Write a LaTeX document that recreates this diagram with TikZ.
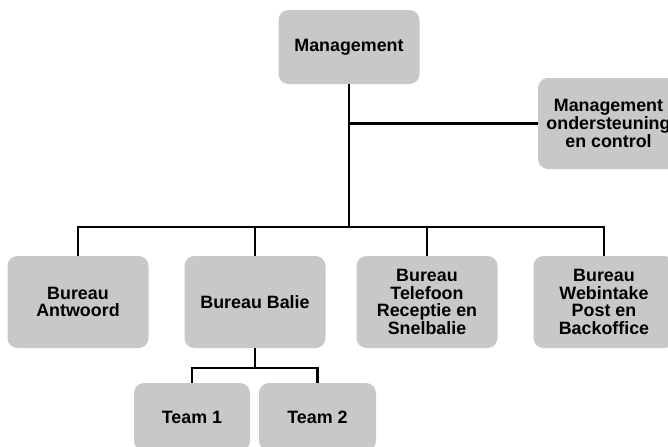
\documentclass[tikz,border=0pt]{standalone}
\usepackage{fontspec}
\setmainfont{Liberation Sans}
\definecolor{boxgray}{RGB}{200,200,202}
\tikzset{
  orgbox/.style={draw=none, fill=boxgray, rounded corners=7.5bp, align=center,
    font=\fontsize{13.4bp}{13.3bp}\selectfont\bfseries, inner sep=0pt,
    minimum width=141*0.75bp, minimum height=#1*0.75bp, text=black},
  orgbox/.default=92,
  conn/.style={line width=1.9bp, draw=black}
}
\begin{document}
\begin{tikzpicture}[x=0.75bp,y=-0.75bp]
\useasboundingbox (0,0) rectangle (668,447);
\fill[white] (0,0) rectangle (668,447);
\begin{scope}
\clip (0,0) rectangle (668,447);
\node[orgbox=74] (m) at (349,47) {Management};
\node[orgbox=91] (ms) at (608.5,123.5) {Management\\ondersteuning\\en control};
\node[orgbox] (ba) at (78,302) {Bureau\\Antwoord};
\node[orgbox] (bb) at (255,302) {Bureau Balie};
\node[orgbox] (bt) at (427,302) {Bureau\\Telefoon\\Receptie en\\Snelbalie};
\node[orgbox] (bw) at (604,302) {Bureau\\Webintake\\Post en\\Backoffice};
\node[orgbox=68, minimum width=116*0.75bp] (t1) at (192,417) {Team 1};
\node[orgbox=68, minimum width=117*0.75bp] (t2) at (317.5,417) {Team 2};
\coordinate (bus) at (349,227);
\coordinate (tbus) at (255,368);
\draw[conn] (m.south) -- (bus);
\draw[conn] (m.south |- ms.west) -- (ms.west);
\draw[conn] (ba.north) |- (bus) -| (bw.north);
\draw[conn] (bb.north) -- (bb.north |- bus);
\draw[conn] (bt.north) -- (bt.north |- bus);
\draw[conn] (bb.south) -- (tbus);
\draw[conn] (t1.north) |- (tbus) -| (t2.north);
\end{scope}
\end{tikzpicture}
\end{document}
